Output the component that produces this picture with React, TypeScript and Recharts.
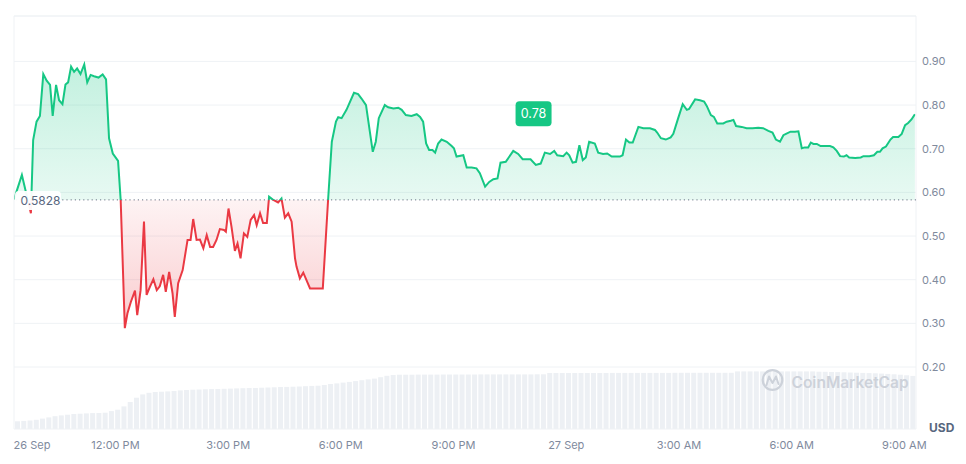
import React from 'react';
import {
  AreaChart,
  Area,
  BarChart,
  Bar,
  XAxis,
  YAxis,
  CartesianGrid,
  ReferenceLine,
  ReferenceDot,
} from 'recharts';

// ---- data (hours since 26 Sep 00:00) ----
const T_START = 9.3;
const T_END = 33.31;
const BASELINE = 0.5828;
const CURRENT_PRICE = 0.78;
const CURRENT_LABEL_T = 23.13;

const PRICE_TIMES = [
  9.30, 9.51, 9.75, 9.81, 9.90, 9.99, 10.08, 10.17, 10.26, 10.33,
  10.42, 10.50, 10.59, 10.67, 10.74, 10.82, 10.90, 10.98, 11.07, 11.17,
  11.25, 11.34, 11.43, 11.55, 11.66, 11.75, 11.83, 11.93, 12.07, 12.14,
  12.25, 12.32, 12.41, 12.52, 12.58, 12.67, 12.76, 12.83, 12.92, 13.01,
  13.10, 13.18, 13.27, 13.34, 13.43, 13.52, 13.58, 13.67, 13.79, 13.92,
  14.00, 14.07, 14.16, 14.25, 14.34, 14.43, 14.52, 14.60, 14.69, 14.78,
  14.89, 14.94, 15.01, 15.09, 15.18, 15.25, 15.33, 15.42, 15.51, 15.60,
  15.69, 15.76, 15.85, 15.93, 16.03, 16.09, 16.18, 16.33, 16.42, 16.51,
  16.60, 16.69, 16.78, 16.82, 16.91, 17.00, 17.18, 17.52, 17.66, 17.76,
  17.87, 17.93, 18.02, 18.15, 18.35, 18.46, 18.55, 18.67, 18.85, 18.93,
  19.01, 19.17, 19.26, 19.40, 19.53, 19.62, 19.73, 19.88, 20.02, 20.11,
  20.19, 20.27, 20.35, 20.44, 20.51, 20.59, 20.68, 20.82, 20.95, 21.01,
  21.08, 21.26, 21.35, 21.48, 21.61, 21.70, 21.84, 21.95, 22.06, 22.17,
  22.25, 22.39, 22.59, 22.72, 22.84, 23.05, 23.19, 23.32, 23.43, 23.57,
  23.68, 23.76, 23.92, 24.01, 24.08, 24.17, 24.26, 24.35, 24.44, 24.52,
  24.61, 24.76, 24.85, 24.98, 25.09, 25.21, 25.43, 25.50, 25.59, 25.68,
  25.77, 25.92, 26.05, 26.23, 26.36, 26.42, 26.52, 26.65, 26.78, 26.85,
  26.98, 27.10, 27.21, 27.27, 27.43, 27.56, 27.67, 27.74, 27.85, 27.93,
  28.02, 28.18, 28.27, 28.38, 28.45, 28.52, 28.67, 28.80, 28.96, 29.11,
  29.24, 29.38, 29.49, 29.58, 29.69, 29.78, 29.85, 29.97, 30.09, 30.18,
  30.27, 30.35, 30.44, 30.51, 30.58, 30.67, 30.77, 31.02, 31.11, 31.20,
  31.29, 31.39, 31.46, 31.53, 31.69, 31.84, 31.91, 32.07, 32.19, 32.28,
  32.35, 32.42, 32.51, 32.63, 32.70, 32.84, 32.93, 33.02, 33.10, 33.19,
  33.28,
];

const PRICE_VALUES = [
  0.584, 0.640, 0.552, 0.720, 0.762, 0.775, 0.871, 0.856, 0.846, 0.775,
  0.846, 0.811, 0.802, 0.847, 0.852, 0.888, 0.876, 0.884, 0.871, 0.893,
  0.852, 0.869, 0.866, 0.863, 0.870, 0.859, 0.724, 0.689, 0.672, 0.582,
  0.289, 0.323, 0.349, 0.375, 0.319, 0.376, 0.533, 0.365, 0.384, 0.401,
  0.376, 0.385, 0.411, 0.372, 0.418, 0.369, 0.315, 0.392, 0.422, 0.491,
  0.491, 0.539, 0.491, 0.492, 0.472, 0.502, 0.475, 0.475, 0.491, 0.516,
  0.514, 0.510, 0.563, 0.521, 0.466, 0.483, 0.449, 0.506, 0.498, 0.537,
  0.548, 0.525, 0.552, 0.530, 0.530, 0.590, 0.584, 0.577, 0.586, 0.542,
  0.552, 0.533, 0.449, 0.430, 0.403, 0.416, 0.380, 0.380, 0.582, 0.716,
  0.762, 0.772, 0.770, 0.789, 0.828, 0.825, 0.815, 0.800, 0.693, 0.716,
  0.770, 0.800, 0.795, 0.792, 0.794, 0.789, 0.777, 0.775, 0.779, 0.773,
  0.762, 0.712, 0.697, 0.697, 0.691, 0.712, 0.721, 0.716, 0.706, 0.701,
  0.682, 0.685, 0.657, 0.657, 0.655, 0.644, 0.613, 0.624, 0.630, 0.632,
  0.668, 0.670, 0.695, 0.688, 0.676, 0.676, 0.663, 0.666, 0.691, 0.688,
  0.695, 0.685, 0.683, 0.691, 0.685, 0.668, 0.670, 0.708, 0.674, 0.680,
  0.716, 0.712, 0.691, 0.688, 0.689, 0.682, 0.682, 0.685, 0.721, 0.714,
  0.714, 0.750, 0.747, 0.747, 0.743, 0.737, 0.724, 0.721, 0.726, 0.734,
  0.770, 0.802, 0.789, 0.791, 0.813, 0.811, 0.808, 0.798, 0.777, 0.773,
  0.758, 0.758, 0.762, 0.764, 0.766, 0.752, 0.750, 0.747, 0.747, 0.748,
  0.747, 0.741, 0.737, 0.721, 0.716, 0.731, 0.734, 0.739, 0.739, 0.740,
  0.701, 0.703, 0.703, 0.714, 0.711, 0.711, 0.706, 0.706, 0.703, 0.695,
  0.683, 0.682, 0.685, 0.680, 0.679, 0.680, 0.683, 0.683, 0.685, 0.693,
  0.693, 0.701, 0.705, 0.721, 0.727, 0.727, 0.734, 0.754, 0.759, 0.767,
  0.779,
];

// 24h volume, one bar per 10 minutes starting at T_START (arbitrary units)
const VOLUME_STEP_H = 1 / 6;
const VOLUME_VALUES = [
  7.7, 8.1, 8.5, 9.2, 10.4, 11.6, 12.8, 13.6, 14.3, 15.0,
  15.3, 15.6, 15.9, 16.0, 16.3, 17.9, 19.3, 22.6, 27.0, 31.3,
  34.6, 36.2, 37.0, 37.3, 37.6, 38.0, 38.6, 39.0, 39.3, 39.5,
  39.7, 39.9, 40.0, 40.2, 40.4, 40.6, 40.8, 41.0, 41.1, 41.3,
  41.5, 41.7, 42.0, 42.1, 42.3, 42.5, 42.8, 43.1, 43.3, 44.0,
  45.0, 45.6, 46.4, 47.1, 47.9, 48.8, 49.6, 50.4, 51.8, 53.2,
  54.0, 54.3, 54.3, 54.3, 54.4, 54.4, 54.4, 54.4, 54.5, 54.5,
  54.5, 54.5, 54.5, 54.5, 54.6, 54.6, 54.6, 54.6, 54.6, 54.6,
  54.6, 54.6, 54.6, 54.7, 54.7, 56.0, 56.0, 56.0, 56.0, 56.0,
  56.0, 56.0, 56.0, 56.0, 56.0, 56.1, 56.1, 56.1, 56.1, 56.1,
  56.1, 56.1, 56.1, 56.1, 56.1, 56.2, 56.2, 56.2, 56.2, 56.2,
  56.2, 56.2, 56.2, 56.2, 56.2, 57.6, 57.6, 57.6, 57.6, 57.6,
  57.6, 57.6, 57.6, 57.6, 57.6, 57.6, 57.6, 57.6, 57.3, 57.2,
  57.0, 56.9, 56.7, 56.5, 56.3, 56.1, 55.9, 55.7, 55.4, 55.1,
  54.7, 54.3, 53.7, 53.1,
];
const VOLUME_MAX_AXIS = 413;

const X_TICKS = [9.78, 12, 15, 18, 21, 24, 27, 30, 33];
const X_TICK_LABELS = ['26 Sep', '12:00 PM', '3:00 PM', '6:00 PM', '9:00 PM', '27 Sep', '3:00 AM', '6:00 AM', '9:00 AM'];
const Y_TICKS = [0.2, 0.3, 0.4, 0.5, 0.6, 0.7, 0.8, 0.9];
const Y_MIN = 0.058;
const Y_MAX = 1.004;

// ---- styling ----
const W = 966;
const H = 464;
const GREEN = '#16c784';
const RED = '#ea3943';
const GRID = '#eff2f5';
const AXIS_TEXT = '#808a9d';
const FONT = 'Inter, "Noto Sans", sans-serif';

const priceData = PRICE_TIMES.map((t, i) => ({ t, price: PRICE_VALUES[i] }));
const volumeData = VOLUME_VALUES.map((v, i) => ({ t: T_START + (i + 0.5) * VOLUME_STEP_H, vol: v }));

const pMax = Math.max(...PRICE_VALUES);
const pMin = Math.min(...PRICE_VALUES);
const splitOffset = (pMax - BASELINE) / (pMax - pMin);

const BaseLabel = (props: any) => {
  const { cx, cy } = props;
  return (
    <g>
      <rect x={cx + 1} y={cy - 9} width={46} height={19} rx={4} fill="#ffffff" fillOpacity={0.95} />
      <text x={cx + 6.5} y={cy + 5} fontSize={12} fill="#58667e" fontFamily={FONT}>
        {BASELINE.toFixed(4)}
      </text>
    </g>
  );
};

const PriceBadge = (props: any) => {
  const { cx, cy } = props;
  return (
    <g>
      <rect x={cx - 18} y={cy - 12.5} width={36} height={25} rx={4} fill={GREEN} />
      <text x={cx} y={cy + 4.5} fontSize={12.5} fill="#ffffff" textAnchor="middle" fontFamily={FONT}>
        {CURRENT_PRICE.toFixed(2)}
      </text>
    </g>
  );
};

export default function App() {
  return (
    <div style={{ position: 'relative', width: W, height: H, background: '#ffffff', fontFamily: FONT }}>
      <style>{'body{margin:0;background:#ffffff;}'}</style>
      {/* volume layer */}
      <div style={{ position: 'absolute', left: 0, top: 0 }}>
        <BarChart width={W} height={H} data={volumeData} margin={{ top: 16, right: 50, bottom: 35, left: 14 }}>
          <XAxis dataKey="t" type="number" domain={[T_START, T_END]} hide allowDataOverflow />
          <YAxis type="number" domain={[0, VOLUME_MAX_AXIS]} hide />
          <Bar dataKey="vol" fill="#edf0f4" barSize={5} isAnimationActive={false} />
        </BarChart>
      </div>
      {/* price layer */}
      <div style={{ position: 'absolute', left: 0, top: 0 }}>
        <AreaChart width={W} height={H} data={priceData} margin={{ top: 16, right: 0, bottom: 5, left: 14 }}>
          <defs>
            <linearGradient id="priceStroke" x1="0" y1="0" x2="0" y2="1">
              <stop offset={0} stopColor={GREEN} />
              <stop offset={splitOffset} stopColor={GREEN} />
              <stop offset={splitOffset} stopColor={RED} />
              <stop offset={1} stopColor={RED} />
            </linearGradient>
            <linearGradient id="priceFill" x1="0" y1="0" x2="0" y2="1">
              <stop offset={0} stopColor={GREEN} stopOpacity={0.26} />
              <stop offset={splitOffset} stopColor={GREEN} stopOpacity={0.1} />
              <stop offset={splitOffset} stopColor={RED} stopOpacity={0.06} />
              <stop offset={1} stopColor={RED} stopOpacity={0.26} />
            </linearGradient>
          </defs>
          <CartesianGrid vertical={false} stroke={GRID} />
          <XAxis
            dataKey="t"
            type="number"
            domain={[T_START, T_END]}
            ticks={X_TICKS}
            interval={0}
            tickFormatter={(v: number) => X_TICK_LABELS[X_TICKS.indexOf(v)] ?? ''}
            axisLine={false}
            tickLine={false}
            tickSize={10}
            tickMargin={2}
            height={30}
            allowDataOverflow
            tick={{ fill: AXIS_TEXT, fontSize: 11, fontFamily: FONT }}
          />
          <YAxis
            orientation="right"
            type="number"
            domain={[Y_MIN, Y_MAX]}
            ticks={Y_TICKS}
            interval={0}
            tickFormatter={(v: number) => v.toFixed(2)}
            axisLine={false}
            tickLine={false}
            tickSize={4}
            tickMargin={2}
            width={50}
            allowDataOverflow
            tick={{ fill: AXIS_TEXT, fontSize: 11, fontFamily: FONT }}
          />
          <ReferenceLine x={T_START} stroke={GRID} />
          <ReferenceLine x={T_END} stroke={GRID} />
          <ReferenceLine y={Y_MAX} stroke={GRID} />
          <Area
            type="linear"
            dataKey="price"
            stroke="url(#priceStroke)"
            strokeWidth={2}
            fill="url(#priceFill)"
            fillOpacity={1}
            baseValue={BASELINE}
            dot={false}
            activeDot={false}
            isAnimationActive={false}
          />
          <ReferenceLine y={BASELINE} stroke="#6b7385" strokeDasharray="1.2 3" strokeWidth={1} />
          <ReferenceDot x={T_START} y={BASELINE} shape={BaseLabel} />
          <ReferenceDot x={CURRENT_LABEL_T} y={CURRENT_PRICE} shape={PriceBadge} />
        </AreaChart>
      </div>
      {/* overlay texts */}
      <svg width={W} height={H} style={{ position: 'absolute', left: 0, top: 0, pointerEvents: 'none' }}>
        <g opacity={1}>
          <circle cx={772.5} cy={380} r={9.8} fill="none" stroke="#cdd2da" strokeWidth={2.2} />
          <path d="M766.5 385 L769 376.5 L772.5 383 L776 376.5 L778.5 384" fill="none" stroke="#cdd2da" strokeWidth={2} strokeLinejoin="round" strokeLinecap="round" />
          <text x={791.5} y={387.5} fontSize={15.5} fontWeight={600} fill="#cdd2da" fontFamily={FONT}>
            CoinMarketCap
          </text>
        </g>
        <text x={929} y={431.5} fontSize={12} fontWeight={700} fill="#58667e" fontFamily={FONT}>
          USD
        </text>
      </svg>
    </div>
  );
}
